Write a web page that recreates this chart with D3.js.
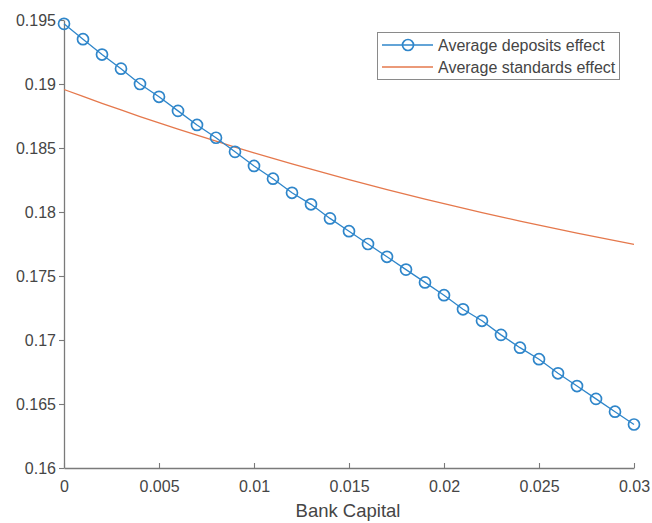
<!DOCTYPE html>
<html><head><meta charset="utf-8">
<script src="https://cdn.jsdelivr.net/npm/d3@7"></script>
<style>body{margin:0;background:#fff}svg{display:block}</style>
</head><body>
<svg id="c" width="652" height="523"></svg>
<script>
const bankCapital = d3.range(31).map(i => +(i*0.001).toFixed(3));
const depositsEffect = [0.1947,0.1935,0.1923,0.1912,0.1900,0.1890,0.1879,0.1868,0.1858,0.1847,0.1836,0.1826,0.1815,0.1806,0.1795,0.1785,0.1775,0.1765,0.1755,0.1745,0.1735,0.1724,0.1715,0.1704,0.1694,0.1685,0.1674,0.1664,0.1654,0.1644,0.1634];
const standardsEffect = [0.18957,0.18903,0.18849,0.18797,0.18746,0.18696,0.18647,0.18600,0.18553,0.18507,0.18462,0.18419,0.18376,0.18334,0.18293,0.18253,0.18214,0.18175,0.18138,0.18101,0.18065,0.18030,0.17996,0.17962,0.17929,0.17897,0.17866,0.17835,0.17805,0.17776,0.17747];
const xTicks = [0,0.005,0.01,0.015,0.02,0.025,0.03];
const xTickLabels = ["0","0.005","0.01","0.015","0.02","0.025","0.03"];
const yTicks = [0.16,0.165,0.17,0.175,0.18,0.185,0.19,0.195];
const yTickLabels = ["0.16","0.165","0.17","0.175","0.18","0.185","0.19","0.195"];
const seriesNames = ["Average deposits effect","Average standards effect"];

const svg = d3.select("#c");
const font = "'Liberation Sans', Arial, Helvetica, sans-serif";
const axisCol = "#7a7a7a", textCol = "#454545";
const blue = "#2F86CA", orange = "#E5784C";
const L = 64, R = 634, T = 20, B = 468;
const x = d3.scaleLinear().domain([0,0.03]).range([L,R]);
const y = d3.scaleLinear().domain([0.16,0.195]).range([B,T]);

const xa = svg.append("g").attr("transform",`translate(0,${B})`)
  .call(d3.axisBottom(x).tickValues(xTicks).tickFormat((d,i)=>xTickLabels[i]).tickSizeInner(-5).tickSizeOuter(0).tickPadding(12));
const ya = svg.append("g").attr("transform",`translate(${L},0)`)
  .call(d3.axisLeft(y).tickValues(yTicks).tickFormat((d,i)=>yTickLabels[i]).tickSizeInner(5).tickSizeOuter(0).tickPadding(3));
[xa,ya].forEach(g=>{
  g.select(".domain").attr("stroke",axisCol).attr("stroke-width",1.3);
  g.selectAll(".tick line").attr("stroke",axisCol).attr("stroke-width",1.1);
  g.selectAll(".tick text").attr("fill",textCol).style("font-family",font).style("font-size","16px");
});
xa.selectAll(".tick text").attr("y",13);

svg.append("text").attr("x",348).attr("y",517).attr("text-anchor","middle")
  .attr("fill",textCol).style("font-family",font).style("font-size","18.5px").text("Bank Capital");

const line = d3.line().x((d,i)=>x(bankCapital[i])).y(d=>y(d));
svg.append("path").datum(standardsEffect).attr("d",line).attr("fill","none").attr("stroke",orange).attr("stroke-width",1.3);
svg.append("path").datum(depositsEffect).attr("d",line).attr("fill","none").attr("stroke",blue).attr("stroke-width",1.3);
svg.append("g").selectAll("circle").data(depositsEffect).join("circle")
  .attr("cx",(d,i)=>x(bankCapital[i])).attr("cy",d=>y(d)).attr("r",5.5)
  .attr("fill","none").attr("stroke",blue).attr("stroke-width",1.7);

const lg = svg.append("g");
lg.append("rect").attr("x",377.5).attr("y",32.5).attr("width",242).attr("height",47)
  .attr("fill","#fff").attr("stroke","#8a8a8a").attr("stroke-width",1);
const ly = [45,67];
const lcol = [blue,orange];
seriesNames.forEach((n,i)=>{
  lg.append("line").attr("x1",382).attr("x2",433).attr("y1",ly[i]).attr("y2",ly[i]).attr("stroke",lcol[i]).attr("stroke-width",1.3);
  if(i===0) lg.append("circle").attr("cx",408).attr("cy",ly[i]).attr("r",5.5).attr("fill","none").attr("stroke",blue).attr("stroke-width",1.7);
  lg.append("text").attr("x",438).attr("y",ly[i]+5.5).attr("fill",textCol).style("font-family",font).style("font-size","16px").text(n);
});
</script>
</body></html>
